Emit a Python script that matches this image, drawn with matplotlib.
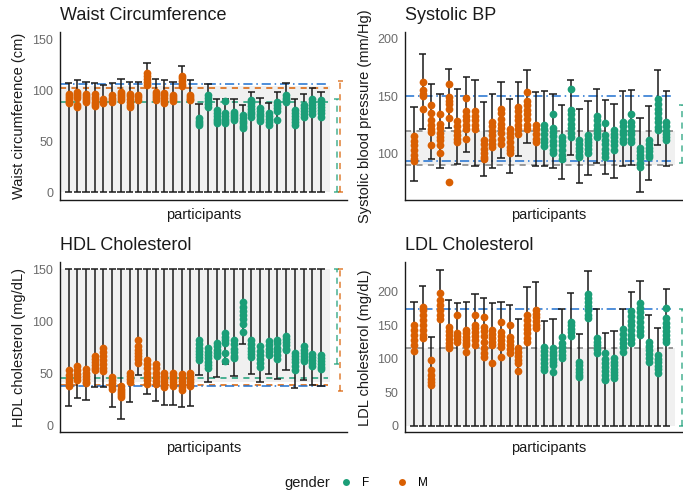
import numpy as np
import matplotlib
matplotlib.use("Agg")
import matplotlib.pyplot as plt
from matplotlib.lines import Line2D

plt.rcParams["font.family"] = ["Liberation Sans", "DejaVu Sans"]

GREEN = "#1B9E77"
ORANGE = "#D95F02"
BLUE = "#1F70D0"
GREY_LINE = "#7F7F7F"
RECT = "#F0F0F0"

# 15 men then 15 women
gender = ["M"] * 15 + ["F"] * 15

# ---- waist circumference (cm)
waist_upper = [107.5, 110.8, 108.5, 107, 105, 107, 111, 108.5, 108.5, 127, 111, 110, 108, 124, 110,
               86.5, 106, 92, 92, 91.7, 86, 98.5, 93, 87.5, 98.8, 107.5, 91.3, 97, 102.7, 98.8]
waist_lower = [0] * 30
waist_points = [
    [97, 95, 93, 91, 89, 87.5], [99, 97, 95, 93, 86, 84], [97, 95, 93, 91, 89],
    [96.5, 94, 92, 89, 87, 85], [92, 90, 88], [95.5, 93, 91, 89],
    [99, 97, 95, 93, 91], [97, 95, 92, 89, 86, 84], [95.5, 93.5, 91],
    [117, 114, 111, 108, 105], [99, 97, 95, 93, 91], [98, 96, 93, 90, 88],
    [96, 94, 92, 90], [114, 112, 109, 106, 104], [96, 94, 92, 91],
    [73, 70, 68, 66], [95.5, 93, 90, 87, 84], [81, 78, 75, 72, 70, 68],
    [90, 78, 75, 72, 70, 68], [79, 77, 75, 73, 71], [76, 73, 70, 68, 65, 63],
    [90.7, 88, 85, 82, 79, 77, 74.5], [82.6, 80, 77, 75, 72, 69.6], [77.7, 75, 72, 69, 66.4],
    [89, 86, 83, 80, 70.6], [95.5, 93, 91, 89], [81, 78, 75, 72, 69, 66],
    [86, 83, 80, 77, 74.5], [92, 89, 86, 83, 80, 77], [90.7, 87, 84, 81, 78, 74.5],
]

# ---- systolic blood pressure (mm/Hg)
sbp_upper = [140.6, 186.4, 160.3, 152.2, 173.3, 156.2, 166.4, 164.3, 144.6, 152.2, 162, 147.5, 162.6, 172.8, 153.6,
             154.2, 152.2, 142.3, 163.8, 139, 145.8, 156, 146.4, 142.9, 154.2, 155.7, 131.3, 141.2, 172.5, 154.2]
sbp_lower = [75.7, 120.9, 95, 87.5, 122.6, 90.7, 101.4, 89, 80.3, 87.8, 96.5, 83.2, 97.7, 109.3, 89,
             89, 87.8, 78, 98.8, 74.5, 81.2, 91.3, 82, 78.8, 89, 89.9, 66.7, 76.8, 107.8, 89]
sbp_points = [
    [115, 111, 107, 103, 99, 95, 93.6], [162, 155, 152, 150, 139], [142.6, 135.4, 129, 125, 121, 118.8, 107],
    [134.8, 126, 122, 118, 114, 111.6, 107, 100.6], [160.3, 149, 146, 143, 139, 131, 75],
    [128, 124, 120, 116, 113, 110], [148.4, 137, 133, 129, 125, 121.7, 113], [136.8, 133, 129, 125, 121.7],
    [111.6, 108, 104, 100, 97, 95.6], [127.5, 124, 120, 116, 112, 108, 105.8],
    [139, 135, 130, 126, 122, 118, 113, 108.7], [121.7, 118, 114, 110, 106, 103, 100],
    [140.6, 137, 133, 129, 125, 121, 117.4], [153.6, 146, 142, 138, 134, 130, 125, 120.9],
    [124.6, 121, 117, 113, 110],
    [124.6, 121, 117, 113, 110, 106.4], [134.2, 122.6, 119, 115, 111, 107, 103, 100],
    [114.5, 111, 107, 103, 99, 95], [156.2, 137.7, 134, 130, 126, 122, 118, 114.5],
    [111.6, 108, 105, 102, 99, 97], [116, 113, 110, 107, 104, 100], [132.5, 129, 125, 121, 118, 114.5],
    [126.7, 116, 112, 108, 104, 100, 97], [120.3, 117, 114, 111, 107, 103], [127.5, 124, 120, 117, 113, 110],
    [134.2, 127.5, 124, 120, 117, 113, 110], [105.2, 102, 99, 96, 92, 88.4], [111.6, 108, 105, 102, 99, 97],
    [147.8, 143, 139, 135, 131, 127, 123, 120.3], [127.5, 124, 120, 117, 114, 111.6],
]

# ---- HDL cholesterol (mg/dL)
hdl_upper = [150] * 30
hdl_lower = [18.5, 27, 24.3, 36.7, 36.7, 17.6, 6.7, 22.3, 48.2, 30.3, 24, 19.5, 19.5, 17.6, 18.5,
             48.2, 41.8, 46.6, 59.4, 47.9, 78.2, 49.5, 42.4, 49.5, 44.7, 53, 36, 44, 39.3, 37.7]
hdl_points = [
    [53.6, 49, 45, 42, 39, 37.7], [56.8, 53, 50, 47, 44], [54, 51, 48, 45, 42, 40.9],
    [67, 64, 61, 58, 55, 53.6], [74.4, 71, 67, 63, 59, 55, 52], [47.2, 44, 41, 38, 35],
    [37.7, 35, 33, 31, 29, 28], [51, 48, 45, 42.4], [82.3, 76, 73, 70, 67, 64, 60],
    [62.6, 59, 55, 51, 47, 44, 40.2], [59.4, 55, 51, 47, 43, 40.2], [51, 48, 45, 42, 39, 37],
    [51, 48, 45, 42, 39, 37.7], [49.8, 46, 43, 40, 37, 34.5], [51, 48, 45, 42, 39, 37.7],
    [82.3, 78, 75, 72, 69, 66, 62.6], [74.4, 71, 68, 65, 61, 58, 55.2], [79, 76, 73, 70, 67],
    [88.7, 85, 82, 79, 70, 61.6], [82.3, 78, 74, 71, 67, 64.8], [119, 114, 110, 106, 102, 98, 90.3],
    [82.3, 78, 75, 72, 69, 65.8], [76, 72, 68, 64, 60, 56.2], [80.8, 77, 74, 71, 68],
    [82.3, 79, 75, 72, 68, 63.8], [86.2, 83, 80, 77, 74, 72.8], [70.2, 67, 64, 61, 57, 53.6],
    [76, 73, 70, 67, 64, 61.6], [69, 66, 63, 60, 56.8], [68, 65, 62, 59, 56, 54.3],
]

# ---- LDL cholesterol (mg/dL)
ldl_upper = [185, 208.5, 132.8, 232.3, 187.6, 182.6, 185, 196, 191, 182.6, 185, 180, 158.7, 207.5, 215,
             156.7, 158.7, 174, 198.5, 136.8, 231.3, 174, 138.8, 141.3, 174, 200, 216.4, 165.2, 145.3, 203.5]
ldl_lower = [0] * 30
ldl_points = [
    [150.2, 142.8, 135, 128, 120, 112], [176.6, 172.6, 165, 158, 150, 143, 136, 130.3],
    [98, 83, 76, 70, 65, 60.7], [197.5, 187.6, 180, 172, 165, 158.7],
    [147.8, 142, 136, 130, 124, 119, 115.4], [165.2, 138.8, 134, 129, 124.4],
    [142.8, 138, 133, 128, 124, 120.4, 110.4], [165.2, 151, 146, 140, 134, 128, 120.4],
    [161.7, 147.8, 141, 134, 125.4, 115.4, 109, 103], [142.8, 137, 131, 125, 120.4, 93],
    [155.2, 140.3, 134, 128, 122, 118, 103], [150.2, 132.8, 126, 120, 114, 108],
    [115.4, 110, 104, 98, 93, 82], [165.2, 158, 151, 145, 138, 131, 125.4],
    [172.6, 167, 162, 157, 151, 145.3],
    [118, 112, 106, 100, 94, 88, 83], [115.4, 110, 105, 100, 95, 90.5, 80.6],
    [132.8, 122.9, 117, 111, 106, 100.5], [155.2, 150, 145, 140, 133.8],
    [95.5, 90, 85, 80, 76, 73], [196.5, 190, 184, 178, 172, 166, 160.2],
    [130.3, 125, 120, 114, 108], [108, 100, 94, 88, 82, 76, 70, 68],
    [100.5, 95, 90, 85, 80, 75, 70.6], [144.3, 137, 130, 124, 117, 110.4],
    [171.6, 164, 157, 150, 143, 136, 129, 122.9], [183.6, 176, 169, 162, 155, 148, 141, 135.3],
    [125.4, 119, 113, 107, 101, 95.5], [105.5, 100, 95, 89, 84, 78],
    [175, 160.2, 154, 148, 142, 136, 130, 125.4],
]

# reference ranges
waist_rect = (0, 104)
waist_lines = [(106, BLUE, "dashdot"), (102.5, ORANGE, "dashed"), (88.5, GREEN, "dashed")]
waist_brackets = [(0, 91.7, GREEN), (0, 109.5, ORANGE)]

sbp_rect = (90, 120)
sbp_lines = [(120, GREY_LINE, "dashed"), (90, GREY_LINE, "dashed"),
             (150.5, BLUE, "dashdot"), (93.5, BLUE, "dashdot")]
sbp_brackets = [(92, 142, GREEN)]

hdl_rect = (42, 150)
hdl_lines = [(45.5, GREEN, "dashed"), (39.5, ORANGE, "dashed"), (38.3, BLUE, "dashdot")]
hdl_brackets = [(59, 150, GREEN), (33, 150, ORANGE)]

ldl_rect = (0, 116)
ldl_lines = [(116, GREY_LINE, "dashed"), (174, BLUE, "dashdot")]
ldl_brackets = [(0, 174, GREEN)]


def draw_panel(ax, title, ylabel, lower, upper, points, rect, lines, brackets, ylim, yticks):
    n = len(upper)
    x = np.arange(1, n + 1)
    ax.add_patch(plt.Rectangle((0, rect[0]), 31, rect[1] - rect[0], color=RECT, lw=0, zorder=0))
    for y, col, ls in lines:
        if ls == "dashdot":
            dashes = (6, 2.5, 1, 2.5)
        else:
            dashes = (4, 3.5)
        ax.plot([0, 30.8], [y, y], color=col, lw=1.1, dashes=dashes, zorder=1)
    ax.vlines(x, lower, upper, color="#1a1a1a", lw=1.1, zorder=2)
    ax.hlines(upper, x - 0.42, x + 0.42, color="#1a1a1a", lw=1.1, zorder=2)
    ax.hlines(lower, x - 0.42, x + 0.42, color="#1a1a1a", lw=1.1, zorder=2)
    for xi, pts, g in zip(x, points, gender):
        ax.scatter([xi] * len(pts), pts, s=31, color=GREEN if g == "F" else ORANGE,
                   linewidths=0, zorder=3)
    for lo, hi, col in brackets:
        bx = 31.8 if col == GREEN else 32.25
        ax.plot([bx, bx], [lo, hi], color=col, alpha=0.8, lw=1.1, dashes=(4, 3.5), zorder=1)
        ax.hlines([lo, hi], bx - 0.3, bx + 0.3, color=col, alpha=0.8, lw=1.1, zorder=1)

    ax.set_xlim(0, 33)
    ax.set_ylim(*ylim)
    ax.set_yticks(yticks)
    ax.set_xticks([])
    ax.tick_params(axis="y", length=0, pad=5, labelsize=9, labelcolor="#6b6b6b")
    for s in ["top", "right"]:
        ax.spines[s].set_visible(False)
    for s in ["left", "bottom"]:
        ax.spines[s].set_linewidth(1.0)
        ax.spines[s].set_color("#1a1a1a")
    ax.set_title(title, loc="left", fontsize=13, pad=9, color="#1a1a1a")
    ax.set_ylabel(ylabel, fontsize=10.5, labelpad=4, color="#1a1a1a")
    ax.set_xlabel("participants", fontsize=10.5, labelpad=6, color="#1a1a1a")


fig = plt.figure(figsize=(6.83, 4.93), dpi=100)
W, H = 683, 493
ax_tl = fig.add_axes([60 / W, 1 - 200 / H, 287 / W, 168 / H])
ax_tr = fig.add_axes([405.3 / W, 1 - 200 / H, 287 / W, 168 / H])
ax_bl = fig.add_axes([60 / W, 1 - 432.3 / H, 287 / W, 170 / H])
ax_br = fig.add_axes([405.3 / W, 1 - 432.3 / H, 287 / W, 170 / H])

draw_panel(ax_tl, "Waist Circumference", "Waist circumference (cm)", waist_lower, waist_upper,
           waist_points, waist_rect, waist_lines, waist_brackets, (-7.5, 157.5), [0, 50, 100, 150])
draw_panel(ax_tr, "Systolic BP", "Systolic blood pressure (mm/Hg)", sbp_lower, sbp_upper,
           sbp_points, sbp_rect, sbp_lines, sbp_brackets, (59.5, 205.8), [100, 150, 200])
draw_panel(ax_bl, "HDL Cholesterol", "HDL cholesterol (mg/dL)", hdl_lower, hdl_upper,
           hdl_points, hdl_rect, hdl_lines, hdl_brackets, (-6.3, 156.7), [0, 50, 100, 150])
draw_panel(ax_br, "LDL Cholesterol", "LDL cholesterol (mg/dL)", ldl_lower, ldl_upper,
           ldl_points, ldl_rect, ldl_lines, ldl_brackets, (-10, 244), [0, 50, 100, 150, 200])

# legend
fig.text(307 / W, 1 - 483 / H, "gender", ha="center", va="center", fontsize=10.5, color="#1a1a1a")
handles = [Line2D([], [], marker="o", ls="", color=GREEN, markersize=5, markeredgewidth=0),
           Line2D([], [], marker="o", ls="", color=ORANGE, markersize=5, markeredgewidth=0)]
fig.legend(handles, ["F", "M"], ncol=2, frameon=False, loc="center",
           bbox_to_anchor=(384 / W, 1 - 483 / H), fontsize=8.5, handletextpad=0.9,
           columnspacing=2.2, handlelength=1.0)

fig.savefig("out.png", dpi=100)
